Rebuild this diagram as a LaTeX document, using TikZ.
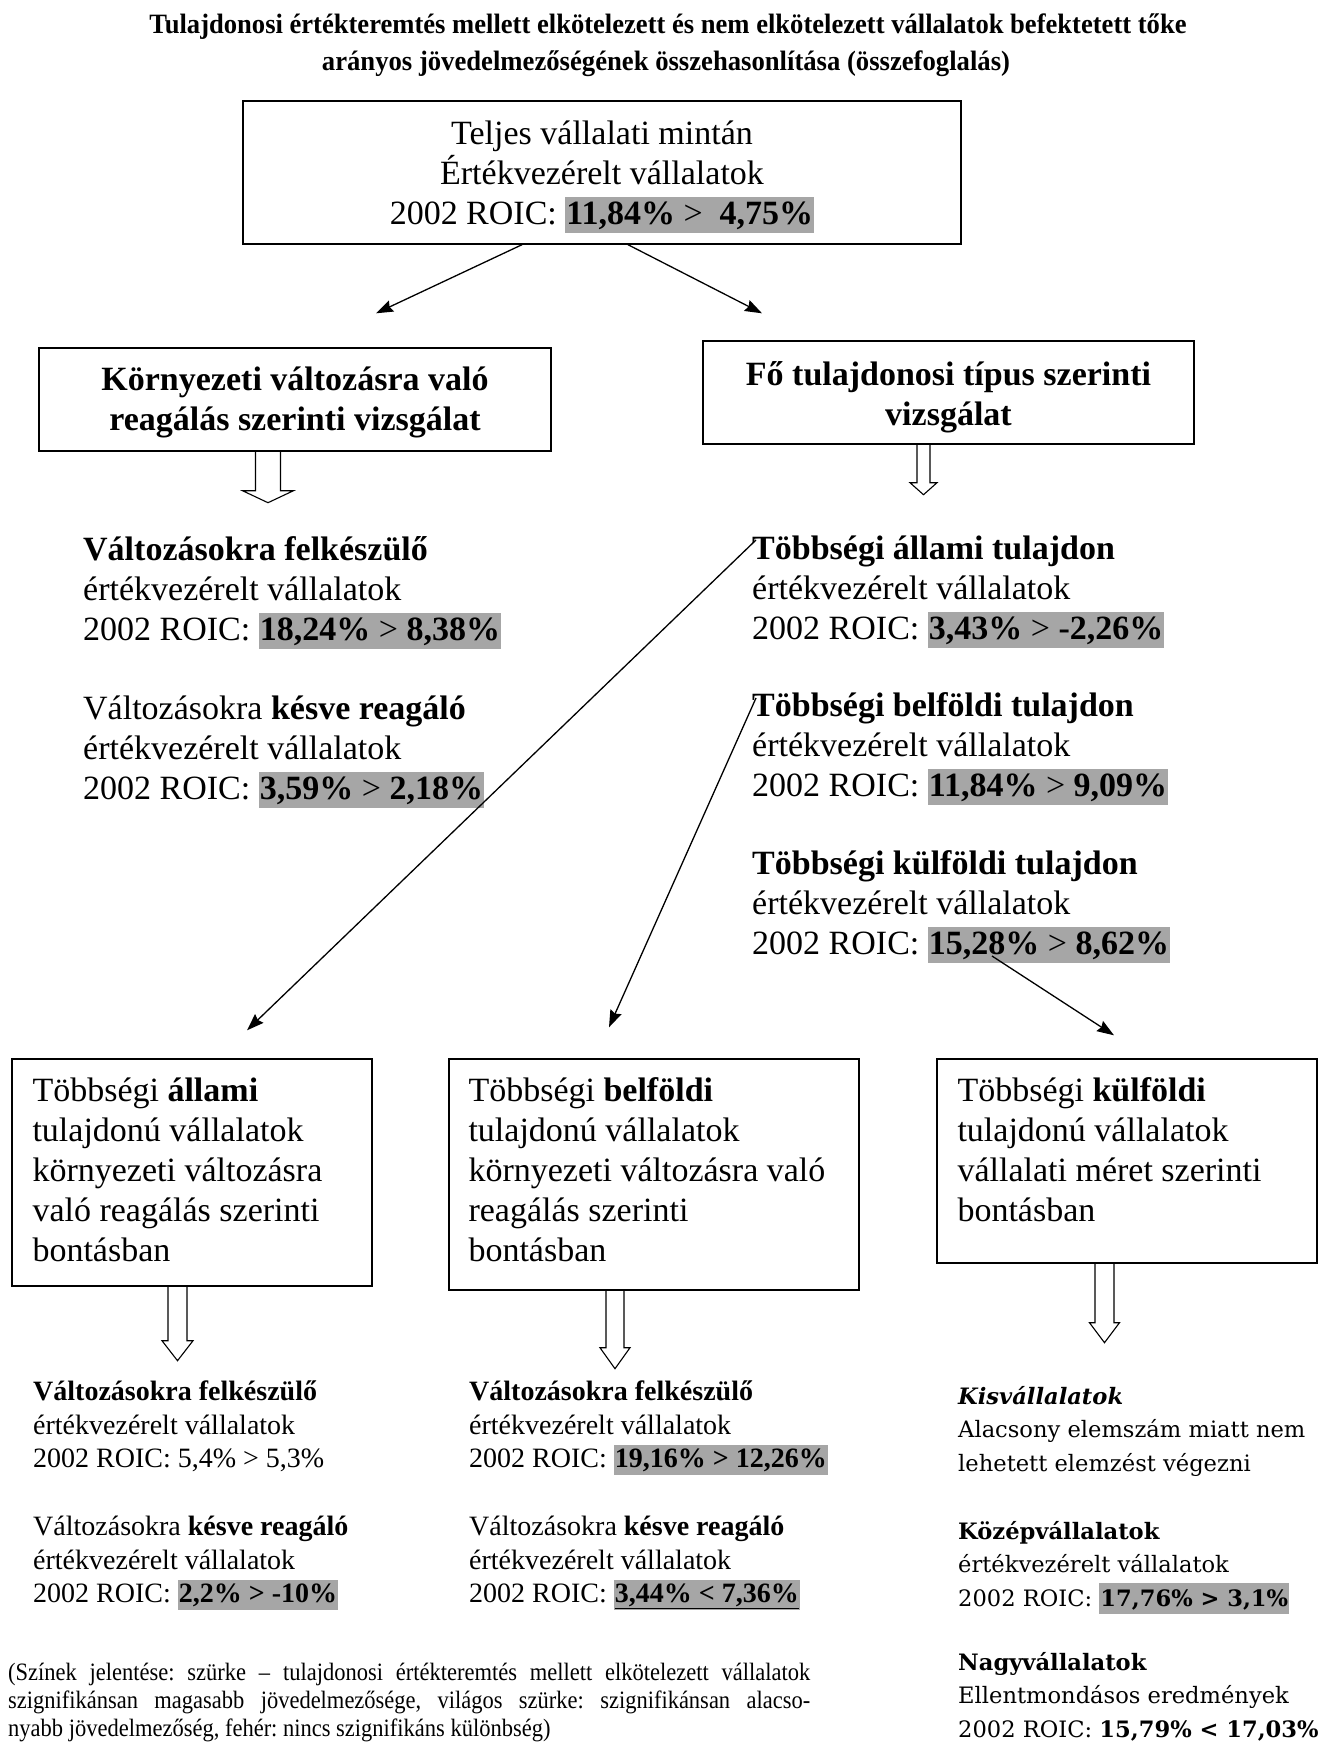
\documentclass[tikz,border=0pt]{standalone}
\usepackage{fontspec}
\setmainfont{Liberation Serif}
\newfontfamily\slabserif{DejaVu Serif}
\newfontfamily\narrowserif[FakeStretch=0.9]{Liberation Serif}
\usepackage{graphicx}
\usetikzlibrary{arrows.meta,calc,positioning}

\definecolor{hlgray}{gray}{0.65}
\newcommand{\roichl}[1]{{\setlength{\fboxsep}{0pt}\colorbox{hlgray}{\vrule width 0pt height .68\baselineskip depth .22\baselineskip\kern1pt#1\kern1pt}}}
\newcommand{\fbig}{\fontsize{34}{40}\selectfont}
\newcommand{\fsmall}{\fontsize{28}{33.5}\selectfont}
\newcommand{\fslab}{\slabserif\fontsize{22.6}{33.5}\selectfont}
% anchor, x offset, half shaft, half head, shaft length, head length
\newcommand{\hollowdown}[6]{%
  \draw[hollow] ($(#1)+({#2-#3},0)$) -- ++(0,#5) -- ++({#3-#4},0) -- ++(#4,#6)
    -- ++(#4,{-#6}) -- ++({#3-#4},0) -- ++(0,{-#5});}

\begin{document}
\begin{tikzpicture}[x=1pt,y=-1pt,
  box/.style={draw,line width=1.4pt,inner sep=0pt},
  txt/.style={anchor=north west,inner sep=0pt,align=left},
  arr/.style={-{Stealth[length=17pt,width=12pt,inset=2pt]},line width=1.3pt},
  hollow/.style={line width=1.1pt,line join=miter}]
\useasboundingbox (0,0) rectangle (1319,1742);
\clip (0,0) rectangle (1319,1742);

% title
\node[anchor=base,font=\fontsize{28}{37}\selectfont\bfseries] (title1) at (668,34)
  {\resizebox{1037pt}{\height}{Tulajdonosi értékteremtés mellett elkötelezett és nem elkötelezett vállalatok befektetett tőke}};
\node[anchor=base,font=\fontsize{28}{37}\selectfont\bfseries] (title2) at (666,71)
  {\resizebox{688pt}{\height}{arányos jövedelmezőségének összehasonlítása (összefoglalás)}};

% boxes
\node[box,minimum width=718pt,minimum height=143pt,align=center,font=\fbig] (teljes) at (602,172.5)
  {\rule{0pt}{32pt}Teljes vállalati mintán\\Értékvezérelt vállalatok\\2002 ROIC: \roichl{\textbf{11,84\%} > \ \textbf{4,75\%}}};
\node[box,minimum width=512pt,minimum height=103pt,align=center,font=\fbig\bfseries] (kornyezet) at (295,399.5)
  {\rule{0pt}{30pt}Környezeti változásra való\\reagálás szerinti vizsgálat};
\node[box,minimum width=491pt,minimum height=103pt,align=center,font=\fbig\bfseries] (fotipus) at (948.5,392.5)
  {\rule{0pt}{33pt}Fő tulajdonosi típus szerinti\\vizsgálat};

\node[box,minimum width=360pt,minimum height=227pt] (allamibox) at (192,1172.5) {};
\node[box,minimum width=410pt,minimum height=231pt] (belfoldbox) at (654,1174.5) {};
\node[box,minimum width=380pt,minimum height=204pt] (kulfoldbox) at (1127,1161) {};

\node[txt,font=\fbig] (allamitxt) at ([xshift=21pt,yshift=-15pt]allamibox.north west)
  {\strut Többségi \textbf{állami}\\tulajdonú vállalatok\\környezeti változásra\\való reagálás szerinti\\bontásban};
\node[txt,font=\fbig] (belfoldtxt) at ([xshift=20pt,yshift=-15pt]belfoldbox.north west)
  {\strut Többségi \textbf{belföldi}\\tulajdonú vállalatok\\környezeti változásra való\\reagálás szerinti\\bontásban};
\node[txt,font=\fbig] (kulfoldtxt) at ([xshift=21pt,yshift=-15pt]kulfoldbox.north west)
  {\strut Többségi \textbf{külföldi}\\tulajdonú vállalatok\\vállalati méret szerinti\\bontásban};

% middle results
\node[txt,font=\fbig] (felkeszulo) at (83,532)
  {\strut\textbf{Változásokra felkészülő}\\értékvezérelt vállalatok\\2002 ROIC: \roichl{\textbf{18,24\%} > \textbf{8,38\%}}};
\node[txt,font=\fbig] (kesve) at (83,691)
  {\strut Változásokra \textbf{késve reagáló}\\értékvezérelt vállalatok\\2002 ROIC: \roichl{\textbf{3,59\%} > \textbf{2,18\%}}};
\node[txt,font=\fbig] (allami) at (752,531)
  {\strut\textbf{Többségi állami tulajdon}\\értékvezérelt vállalatok\\2002 ROIC: \roichl{\textbf{3,43\%} > \textbf{-2,26\%}}};
\node[txt,font=\fbig] (belfoldi) at (752,688)
  {\strut\textbf{Többségi belföldi tulajdon}\\értékvezérelt vállalatok\\2002 ROIC: \roichl{\textbf{11,84\%} > \textbf{9,09\%}}};
\node[txt,font=\fbig] (kulfoldi) at (752,846)
  {\strut\textbf{Többségi külföldi tulajdon}\\értékvezérelt vállalatok\\2002 ROIC: \roichl{\textbf{15,28\%} > \textbf{8,62\%}}};

% bottom results
\node[txt,font=\fsmall] (allamifelk) at (33,1377)
  {\strut\textbf{Változásokra felkészülő}\\értékvezérelt vállalatok\\2002 ROIC: 5,4\% > 5,3\%};
\node[txt,font=\fsmall] (allamikesve) at (33,1512)
  {\strut Változásokra \textbf{késve reagáló}\\értékvezérelt vállalatok\\2002 ROIC: \roichl{\textbf{2,2\% > -10\%}}};
\node[txt,font=\fsmall] (belfoldfelk) at (469,1377)
  {\strut\textbf{Változásokra felkészülő}\\értékvezérelt vállalatok\\2002 ROIC: \roichl{\textbf{19,16\% > 12,26\%}}};
\node[txt,font=\fsmall] (belfoldkesve) at (469,1512)
  {\strut Változásokra \textbf{késve reagáló}\\értékvezérelt vállalatok\\2002 ROIC: \roichl{\underline{\textbf{3,44\% < 7,36\%}}}};

\node[txt,font=\fslab] (kis) at (958,1380.5)
  {\strut\textbf{\textit{Kisvállalatok}}\\Alacsony elemszám miatt nem\\lehetett elemzést végezni};
\node[txt,font=\fslab] (kozep) at (958,1515.5)
  {\strut\textbf{Középvállalatok}\\értékvezérelt vállalatok\\2002 ROIC: \roichl{\textbf{17,76\% > 3,1\%}}};
\node[txt,font=\fslab] (nagy) at (958,1646.5)
  {\strut\textbf{Nagyvállalatok}\\Ellentmondásos eredmények\\2002 ROIC: \underline{\textbf{15,79\% < 17,03\%}}};

% footnote
\node[txt,font=\narrowserif\fontsize{25}{28}\selectfont\frenchspacing] (szinek) at (8,1661)
  {\strut\makebox[802pt][s]{(Színek jelentése: szürke – tulajdonosi értékteremtés mellett elkötelezett vállalatok}\\
   \makebox[802pt][s]{szignifikánsan magasabb jövedelmezősége, világos szürke: szignifikánsan alacso-}\\
   nyabb jövedelmezőség, fehér: nincs szignifikáns különbség)};

% connectors
\draw[arr] ([xshift=-80pt]teljes.south) -- ([xshift=81pt,yshift=34pt]kornyezet.north);
\draw[arr] ([xshift=26pt]teljes.south) -- ([xshift=-186.5pt,yshift=27pt]fotipus.north);
\draw[arr] ([xshift=4pt,yshift=-9pt]allami.north west) -- ([xshift=55pt,yshift=28pt]allamibox.north);
\draw[arr] ([xshift=4pt,yshift=-10pt]belfoldi.north west) -- ([xshift=-45pt,yshift=31pt]belfoldbox.north);
\draw[arr] ([xshift=240pt,yshift=-110pt]kulfoldi.north west) -- ([xshift=-13pt,yshift=23pt]kulfoldbox.north);

\hollowdown{kornyezet.south}{-27}{12.5}{25.5}{39}{12}
\hollowdown{fotipus.south}{-25}{6.5}{13.5}{38}{12}
\hollowdown{allamibox.south}{-14.5}{9.5}{15.5}{54}{20}
\hollowdown{belfoldbox.south}{-39}{9}{15}{57}{21}
\hollowdown{kulfoldbox.south}{-22.5}{9.5}{15}{59}{20}
\end{tikzpicture}
\end{document}
